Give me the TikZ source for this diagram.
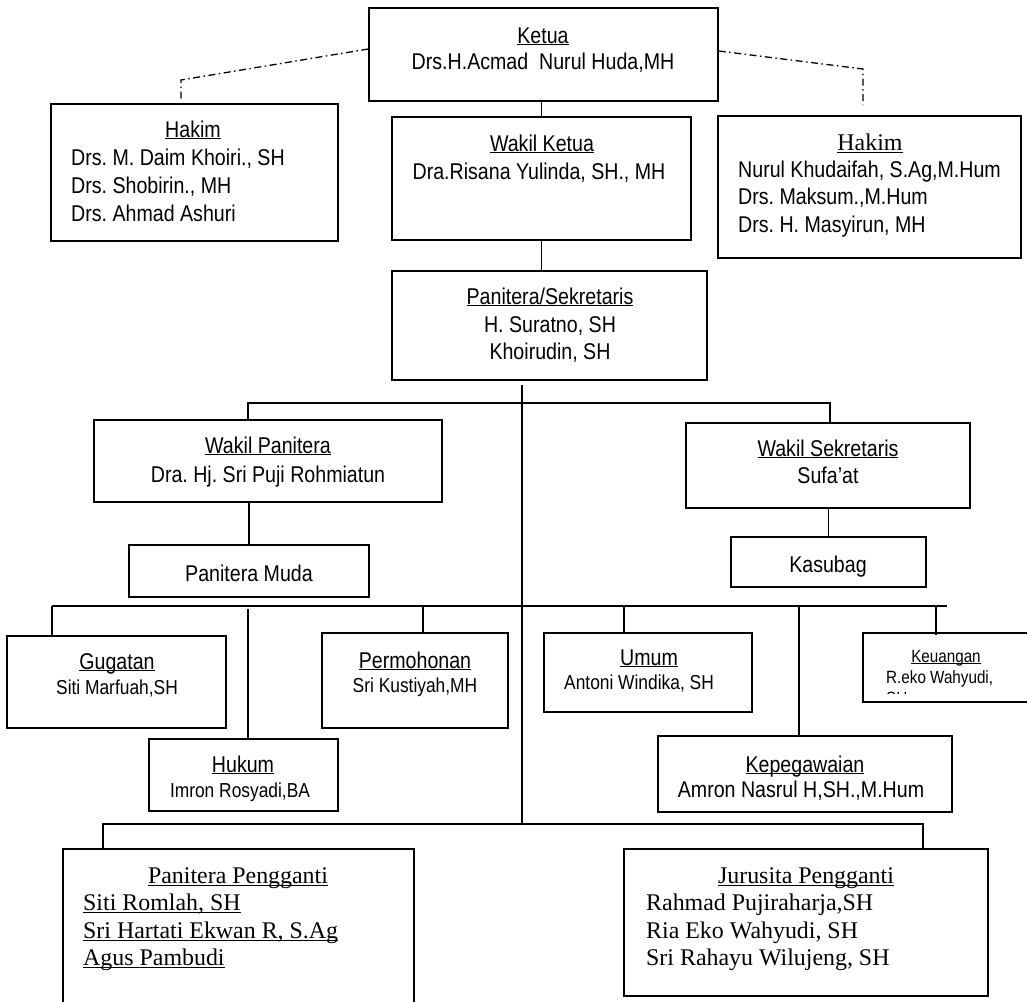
\documentclass[tikz,border=0pt]{standalone}
\usepackage{fontspec}
\setmainfont{Liberation Sans}[FakeStretch=0.86]
\newfontfamily\tnr{Liberation Serif}
\newcommand\fmain{\fontsize{22.8}{27}\selectfont}
\newcommand\fsmall{\fontsize{20.2}{24}\selectfont}
\newcommand\fkeu{\fontsize{17.7}{21}\selectfont}
\newcommand\fser{\tnr\fontsize{23.9}{28}\selectfont}
\newcommand\ulS[1]{\setbox0\hbox{#1}\rlap{\rule[-2pt]{\wd0}{1.1pt}}\box0}
\newcommand\ulT[1]{\setbox0\hbox{#1}\rlap{\rule[-3pt]{\wd0}{1.3pt}}\box0}
\frenchspacing
\begin{document}
\begin{tikzpicture}[x=1pt,y=-1pt,
 box/.style={draw,line width=1.5pt,inner sep=0pt},
 ln/.style={line width=1.3pt},
 dd/.style={line width=1.3pt,dash pattern=on 7pt off 3.5pt on 1.5pt off 3.5pt},
 tc/.style={inner sep=0pt,anchor=base,font=\fmain},
 tl/.style={inner sep=0pt,anchor=base west,font=\fmain},
 sc/.style={inner sep=0pt,anchor=base,font=\fsmall},
 rc/.style={inner sep=0pt,anchor=base,font=\fser},
 rl/.style={inner sep=0pt,anchor=base west,font=\fser},
]
\clip (0,0) rectangle (1027,1001);
\fill[white] (0,0) rectangle (1027,1001);

% boxes
\node[box,minimum width=349pt,minimum height=93pt] (ketua) at (543.5,54.5) {};
\node[box,minimum width=287pt,minimum height=137pt] (hakimL) at (194.5,172.5) {};
\node[box,minimum width=299pt,minimum height=123pt] (wketua) at (541.5,178.5) {};
\node[box,minimum width=303pt,minimum height=142pt] (hakimR) at (869.5,187) {};
\node[box,minimum width=315pt,minimum height=109pt] (panit) at (549.5,325.5) {};
\node[box,minimum width=348pt,minimum height=82pt] (wpan) at (268,461) {};
\node[box,minimum width=284pt,minimum height=85pt] (wsek) at (828,465.5) {};
\node[box,minimum width=240pt,minimum height=52pt] (pmuda) at (249,571) {};
\node[box,minimum width=195pt,minimum height=50pt] (kasubag) at (828.5,562) {};
\node[box,minimum width=219pt,minimum height=92pt] (gugatan) at (116.5,682) {};
\node[box,minimum width=186pt,minimum height=95pt] (permo) at (415,680.5) {};
\node[box,minimum width=189pt,minimum height=72pt] (hukum) at (243.5,775) {};
\node[box,minimum width=208pt,minimum height=79pt] (umum) at (648,672.5) {};
\node[box,minimum width=182pt,minimum height=69pt] (keu) at (954,667.5) {};
\node[box,minimum width=294pt,minimum height=76pt] (kepeg) at (805,774) {};
\node[box,minimum width=351pt,minimum height=171pt] (ppeng) at (238.5,934.5) {};
\node[box,minimum width=364pt,minimum height=147pt] (jurus) at (806,922.5) {};

% texts
\node[tc] (ketuaT) at (543,43) {\ulS{Ketua}};
\node[tc] (ketuaN) at (543,69) {Drs.H.Acmad\ \ Nurul Huda,MH};

\node[tc] (hakimLT) at (193,137) {\ulS{Hakim}};
\node[tl] (hakimL1) at (71,165) {Drs. M. Daim Khoiri., SH};
\node[tl] (hakimL2) at (71,193) {Drs. Shobirin., MH};
\node[tl] (hakimL3) at (71,221) {Drs. Ahmad Ashuri};

\node[tc] (wketuaT) at (542,151) {\ulS{Wakil Ketua}};
\node[tc] (wketuaN) at (539,179) {Dra.Risana Yulinda, SH., MH};

\node[rc] (hakimRT) at (870,150) {\ulT{Hakim}};
\node[tl] (hakimR1) at (738,177) {Nurul Khudaifah, S.Ag,M.Hum};
\node[tl] (hakimR2) at (738,204) {Drs. Maksum.,M.Hum};
\node[tl] (hakimR3) at (738,232) {Drs. H. Masyirun, MH};

\node[tc] (panitT) at (550,304) {\ulS{Panitera/Sekretaris}};
\node[tc] (panit1) at (550,332) {H. Suratno, SH};
\node[tc] (panit2) at (550,359) {Khoirudin, SH};

\node[tc] (wpanT) at (268,453) {\ulS{Wakil Panitera}};
\node[tc] (wpanN) at (268,482) {Dra. Hj. Sri Puji Rohmiatun};

\node[tc] (pmudaT) at (249,581) {Panitera Muda};

\node[tc] (wsekT) at (828,456) {\ulS{Wakil Sekretaris}};
\node[tc] (wsekN) at (828,483) {Sufa’at};

\node[tc] (kasubagT) at (828,572) {Kasubag};

\node[tc] (gugatanT) at (117,669) {\ulS{Gugatan}};
\node[sc] (gugatanN) at (117,694) {Siti Marfuah,SH};

\node[tc] (permoT) at (415,668) {\ulS{Permohonan}};
\node[sc] (permoN) at (415,692) {Sri Kustiyah,MH};

\node[tc] (hukumT) at (243,772) {\ulS{Hukum}};
\node[sc] (hukumN) at (240,797) {Imron Rosyadi,BA};

\node[tc] (umumT) at (649,665) {\ulS{Umum}};
\node[sc] (umumN) at (639,689) {Antoni Windika, SH};

\begin{scope}
\clip (860,640) rectangle (1027,693);
\node[inner sep=0pt,anchor=base,font=\fkeu] (keuT) at (946,662) {\ulS{Keuangan}};
\node[inner sep=0pt,anchor=base west,font=\fkeu] (keu1) at (886,683) {R.eko Wahyudi,};
\node[inner sep=0pt,anchor=base west,font=\fkeu] (keu2) at (886,704) {SH};
\end{scope}

\node[tc] (kepegT) at (805,772) {\ulS{Kepegawaian}};
\node[tc] (kepegN) at (801,797) {Amron Nasrul H,SH.,M.Hum};

\node[rc] (ppengT) at (238,883) {\ulT{Panitera Pengganti}};
\node[rl] (ppeng1) at (83,910) {\ulT{Siti Romlah, SH}};
\node[rl] (ppeng2) at (83,938) {\ulT{Sri Hartati Ekwan R, S.Ag}};
\node[rl] (ppeng3) at (83,965) {\ulT{Agus Pambudi}};

\node[rc] (jurusT) at (806,883) {\ulT{Jurusita Pengganti}};
\node[rl] (jurus1) at (646,910) {Rahmad Pujiraharja,SH};
\node[rl] (jurus2) at (646,938) {Ria Eko Wahyudi, SH};
\node[rl] (jurus3) at (646,965) {Sri Rahayu Wilujeng, SH};

% connectors
\coordinate (dl1) at (181,80);
\coordinate (dl2) at (181,99);
\draw[dd] ([yshift=5.5pt]ketua.west) -- (dl1) -- (dl2);
\coordinate (dr1) at (863,69);
\coordinate (dr2) at (863,105);
\draw[dd] ([yshift=3.5pt]ketua.east) -- (dr1) -- (dr2);

\draw[ln] (wketua.north) -- (wketua.north |- ketua.south);
\draw[ln] (wketua.south) -- (wketua.south |- panit.north);

\coordinate (trT) at (522,385);
\coordinate (trB) at (522,824);
\draw[ln] (trT) -- (trB);

\coordinate (b1L) at (248,403);
\coordinate (b1R) at (830,403);
\draw[ln] (wpan.north -| b1L) -- (b1L) -- (b1R) -- (wsek.north -| b1R);
\draw[ln] (pmuda.north) -- (pmuda.north |- wpan.south);
\draw[ln] (kasubag.north) -- (kasubag.north |- wsek.south);

\coordinate (b2L) at (52,606);
\coordinate (b2R) at (947,606);
\draw[ln] (b2L) -- (b2R);
\draw[ln] (b2L) -- (gugatan.north -| b2L);
\coordinate (d2) at (248,609);
\draw[ln] (d2) -- (hukum.north -| d2);
\coordinate (d3) at (423,606);
\draw[ln] (d3) -- (permo.north -| d3);
\coordinate (d4) at (624,606);
\draw[ln] (d4) -- (umum.north -| d4);
\coordinate (d5) at (799,606);
\draw[ln] (d5) -- (kepeg.north -| d5);
\coordinate (d6) at (936,606);
\draw[ln] (d6) -- ([yshift=-3pt]keu.north -| d6);

\coordinate (b3L) at (103,824);
\coordinate (b3R) at (923,824);
\draw[ln] (ppeng.north -| b3L) -- (b3L) -- (b3R) -- (jurus.north -| b3R);
\end{tikzpicture}
\end{document}
